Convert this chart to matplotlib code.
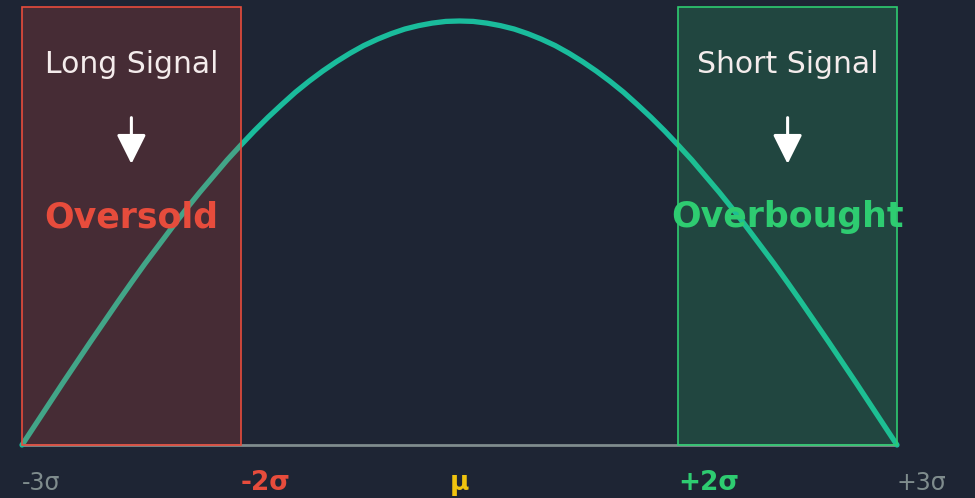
import matplotlib.pyplot as plt
from matplotlib.patches import Rectangle

#%% DATA
# curve position (plot units, -2 .. 2 across the band edges) and height
curve_x = [-2.0, -1.9375, -1.875, -1.8125, -1.75, -1.6875, -1.625, -1.5625,
           -1.5, -1.4375, -1.375, -1.3125, -1.25, -1.1875, -1.125, -1.0625,
           -1.0, -0.9375, -0.875, -0.8125, -0.75, -0.6875, -0.625, -0.5625,
           -0.5, -0.4375, -0.375, -0.3125, -0.25, -0.1875, -0.125, -0.0625,
           0.0,
           0.0625, 0.125, 0.1875, 0.25, 0.3125, 0.375, 0.4375, 0.5,
           0.5625, 0.625, 0.6875, 0.75, 0.8125, 0.875, 0.9375, 1.0,
           1.0625, 1.125, 1.1875, 1.25, 1.3125, 1.375, 1.4375, 1.5,
           1.5625, 1.625, 1.6875, 1.75, 1.8125, 1.875, 1.9375, 2.0]
curve_y = [0.0, 0.049, 0.098, 0.147, 0.195, 0.243, 0.290, 0.337,
           0.383, 0.428, 0.471, 0.514, 0.556, 0.596, 0.634, 0.672,
           0.707, 0.741, 0.773, 0.803, 0.832, 0.858, 0.882, 0.904,
           0.924, 0.942, 0.957, 0.970, 0.981, 0.989, 0.995, 0.999,
           1.0,
           0.999, 0.995, 0.989, 0.981, 0.970, 0.957, 0.942, 0.924,
           0.904, 0.882, 0.858, 0.832, 0.803, 0.773, 0.741, 0.707,
           0.672, 0.634, 0.596, 0.556, 0.514, 0.471, 0.428, 0.383,
           0.337, 0.290, 0.243, 0.195, 0.147, 0.098, 0.049, 0.0]

tick_pos = [-2, -1, 0, 1, 2]
tick_labels = ['-3σ', '-2σ', 'μ', '+2σ', '+3σ']

zones = [(-2, -1), (1, 2)]          # oversold / overbought bands
zone_titles = ['Long Signal', 'Short Signal']
zone_labels = ['Oversold', 'Overbought']
zone_height = 1.033

#%% STYLE
BG = '#1e2534'
TEAL = '#1abc9c'
RED = '#e74c3c'
GREEN = '#2ecc71'
YELLOW = '#f1c40f'
GREY = '#7f8c8d'
tick_colors = [GREY, RED, YELLOW, GREEN, GREY]
tick_bold = [False, True, True, True, False]
tick_ha = ['left', 'left', 'center', 'left', 'left']
zone_colors = [RED, GREEN]

#%% PLOT
fig = plt.figure(figsize=(9.75, 4.98), dpi=100)
fig.patch.set_facecolor(BG)
ax = fig.add_axes([0, 0, 1, 1])
ax.set_facecolor(BG)
ax.set_xlim(-2.1006, 2.3566)
ax.set_ylim(-0.125, 1.0495)
ax.axis('off')

# baseline
ax.plot([curve_x[0], curve_x[-1]], [0, 0], color=GREY, lw=2, zorder=1)

# curve
ax.plot(curve_x, curve_y, color=TEAL, lw=3.8, solid_capstyle='round',
        solid_joinstyle='round', zorder=2)

for (x0, x1), col, title, lab in zip(zones, zone_colors, zone_titles, zone_labels):
    ax.add_patch(Rectangle((x0, 0), x1 - x0, zone_height, facecolor=col,
                           alpha=0.2, edgecolor='none', zorder=3))
    ax.add_patch(Rectangle((x0, 0), x1 - x0, zone_height, facecolor='none',
                           edgecolor=col, lw=1.2, zorder=4))
    xc = (x0 + x1) / 2
    ax.text(xc, 0.877, title, color='#f4ecec', fontsize=21.5,
            ha='center', va='baseline', zorder=5)
    ax.annotate('', xy=(xc, 0.663), xytext=(xc, 0.772),
                arrowprops=dict(arrowstyle='-|>,head_length=1.0,head_width=0.5',
                                color='white', lw=2.2, mutation_scale=18,
                                shrinkA=0, shrinkB=0), zorder=5)
    ax.text(xc, 0.514, lab, color=col, fontsize=25, fontweight='bold',
            ha='center', va='baseline', zorder=5)

# axis labels
for pos, lab, col, bold, ha in zip(tick_pos, tick_labels, tick_colors, tick_bold, tick_ha):
    ax.text(pos, -0.09, lab, color=col, fontsize=19 if bold else 17,
            fontweight='bold' if bold else 'normal', ha=ha, va='center')

fig.savefig('out.png', dpi=100, facecolor=BG)
